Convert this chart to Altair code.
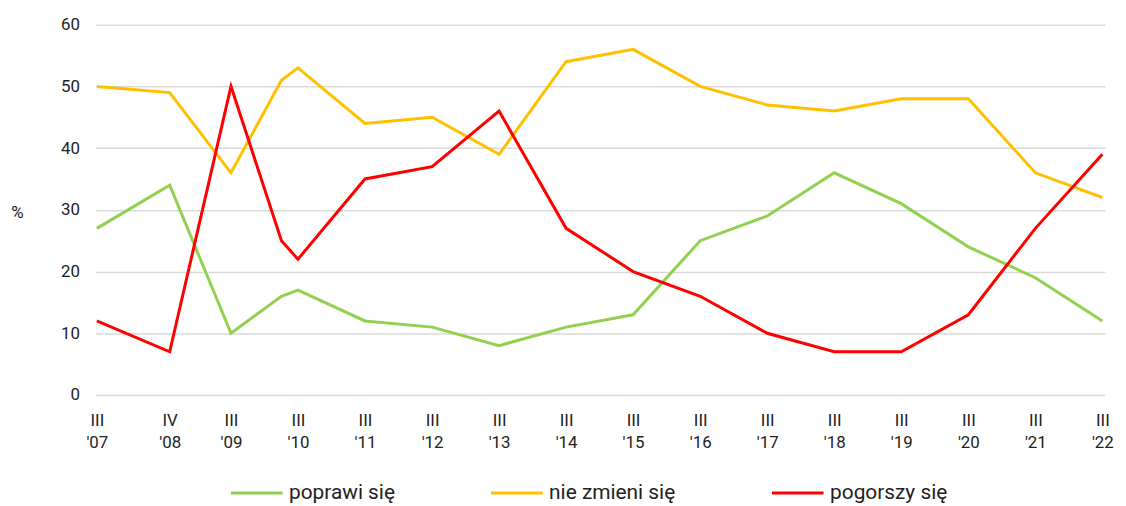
import altair as alt
import pandas as pd

# Survey dates (month of survey)
dates = ["2007-03-01", "2008-04-01", "2009-03-01", "2009-12-01", "2010-03-01",
         "2011-03-01", "2012-03-01", "2013-03-01", "2014-03-01", "2015-03-01",
         "2016-03-01", "2017-03-01", "2018-03-01", "2019-03-01", "2020-03-01",
         "2021-03-01", "2022-03-01"]

poprawi = [27, 34, 10, 16, 17, 12, 11, 8, 11, 13, 25, 29, 36, 31, 24, 19, 12]
nie_zmieni = [50, 49, 36, 51, 53, 44, 45, 39, 54, 56, 50, 47, 46, 48, 48, 36, 32]
pogorszy = [12, 7, 50, 25, 22, 35, 37, 46, 27, 20, 16, 10, 7, 7, 13, 27, 39]

series_names = ["poprawi się", "nie zmieni się", "pogorszy się"]
series_colors = ["#92D050", "#FFC000", "#FF0000"]

# Tick dates (year, month)
tick_years = [2007, 2008, 2009, 2010, 2011, 2012, 2013, 2014, 2015, 2016,
              2017, 2018, 2019, 2020, 2021, 2022]
tick_months = [3, 4, 3, 3, 3, 3, 3, 3, 3, 3, 3, 3, 3, 3, 3, 3]

rows = []
for name, vals in zip(series_names, [poprawi, nie_zmieni, pogorszy]):
    for d, v in zip(dates, vals):
        rows.append({"date": d, "value": v, "series": name})
df = pd.DataFrame(rows)

tick_values = [alt.DateTime(year=y, month=m, date=1, utc=True)
               for y, m in zip(tick_years, tick_months)]

roman = "['I','II','III','IV','V','VI','VII','VIII','IX','X','XI','XII']"
label_expr = f"[{roman}[utcmonth(datum.value)], \"'\" + utcFormat(datum.value, '%y')]"

FONT = "Roboto"

chart = alt.Chart(df).mark_line(strokeWidth=3).encode(
    x=alt.X(
        "date:T",
        scale=alt.Scale(
            type="utc",
            domain=[alt.DateTime(year=2007, month=2, date=21, utc=True),
                    alt.DateTime(year=2022, month=3, date=16, utc=True)],
        ),
        axis=alt.Axis(
            values=tick_values,
            labelExpr=label_expr,
            title=None,
            grid=False,
            ticks=False,
            domain=False,
            labelFont=FONT,
            labelFontSize=17,
            labelColor="#222222",
            labelLineHeight=22,
            labelPadding=18,
            labelAlign="center",
            labelOverlap=False,
            labelFlush=False,
        ),
    ),
    y=alt.Y(
        "value:Q",
        scale=alt.Scale(domain=[0, 60], nice=False),
        axis=alt.Axis(
            values=[0, 10, 20, 30, 40, 50, 60],
            title="%",
            titleAngle=0,
            titleFont=FONT,
            titleFontSize=17,
            titleFontWeight="normal",
            titleColor="#222222",
            titleX=-79,
            titleY=189,
            titleAlign="center",
            titleBaseline="middle",
            grid=True,
            gridColor="#D9D9D9",
            gridWidth=1.5,
            ticks=False,
            domain=False,
            labelFont=FONT,
            labelFontSize=17,
            labelColor="#222222",
            labelPadding=16,
        ),
    ),
    color=alt.Color(
        "series:N",
        scale=alt.Scale(domain=series_names, range=series_colors),
        sort=series_names,
        legend=alt.Legend(
            title=None,
            orient="none",
            direction="horizontal",
            legendX=135,
            legendY=444,
            symbolType="stroke",
            symbolStrokeWidth=3,
            symbolSize=2704,
            labelFont=FONT,
            labelFontSize=21,
            labelColor="#222222",
            labelOffset=5,
            columnPadding=90,
        ),
    ),
    order=alt.Order("series:N"),
).properties(
    width=1017,
    height=373,
    autosize=alt.AutoSizeParams(type="none"),
    padding={"left": 88, "top": 15, "right": 13, "bottom": 109},
).configure_view(stroke=None)

chart.save("out.html", embed_options={"renderer": "svg", "actions": False})
